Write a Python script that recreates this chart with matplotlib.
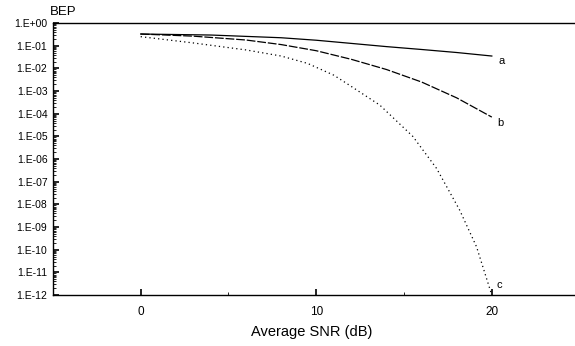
import matplotlib
matplotlib.use("Agg")
import matplotlib.pyplot as plt
from matplotlib.ticker import FixedLocator, NullFormatter

plt.rcParams['font.family'] = ['Liberation Sans', 'DejaVu Sans']

snr_a = [0, 4, 8, 10, 12, 14, 16, 18, 20]
bep_a = [3.27e-1, 2.95e-1, 2.24e-1, 1.74e-1, 1.26e-1, 9.1e-2, 6.8e-2, 5.0e-2, 3.5e-2]

snr_b = [0, 3, 6, 8, 10, 12, 14, 16, 18, 20]
bep_b = [3.27e-1, 2.63e-1, 1.78e-1, 1.12e-1, 6.0e-2, 2.5e-2, 8.9e-3, 2.5e-3,
         5.0e-4, 7.1e-5]

snr_c = [0, 3, 6, 8, 9.5, 11, 11.72, 13.62, 15.5, 16.85, 18.17, 19.13, 20]
bep_c = [2.5e-1, 1.32e-1, 6.5e-2, 3.5e-2, 1.66e-2, 5.0e-3, 2.2e-3, 2.4e-4,
         1.0e-5, 3.9e-7, 5.6e-9, 1.35e-10, 1.0e-12]

labels = ['a', 'b', 'c']
ytick_vals = [10.0 ** (-k) for k in range(0, 13)]
ytick_labels = ['1.E+00'] + ['1.E-%02d' % k for k in range(1, 13)]
xtick_vals = [0, 10, 20]

fig = plt.figure(figsize=(5.75, 3.46), dpi=100)
ax = fig.add_axes([0.092, 0.147, 0.916, 0.7865])

ax.plot(snr_a, bep_a, color='black', lw=0.9, ls='-')
ax.plot(snr_b, bep_b, color='black', lw=0.9, ls=(0, (7, 1.5)))
ax.plot(snr_c, bep_c, color='black', lw=0.9, ls=(0, (1, 2.5)))

ax.text(20.4, 2.1e-2, labels[0], fontsize=8, va='center', ha='left')
ax.text(20.3, 3.9e-5, labels[1], fontsize=8, va='center', ha='left')
ax.text(20.25, 2.8e-12, labels[2], fontsize=8, va='center', ha='left')

ax.set_yscale('log')
ax.set_ylim(1e-12, 1)
ax.set_xlim(-5, 25)
ax.set_yticks(ytick_vals)
ax.set_yticklabels(ytick_labels)
ax.yaxis.set_minor_locator(FixedLocator(
    [m * 10.0 ** e for e in range(-12, 0) for m in range(2, 10)]))
ax.yaxis.set_minor_formatter(NullFormatter())
ax.set_xticks(xtick_vals)
ax.set_xticks([-5, 5, 15, 25], minor=True)

ax.tick_params(axis='both', which='major', direction='in', length=4, width=1.2,
               labelsize=7.5, pad=4)
ax.tick_params(axis='both', which='minor', direction='in', length=2, width=0.6)
ax.tick_params(axis='x', which='major', pad=8, labelsize=8.5)
ax.tick_params(top=False, right=False, which='both')

ax.spines['right'].set_visible(False)
for s in ['left', 'bottom', 'top']:
    ax.spines[s].set_linewidth(1.0)

fig.text(0.087, 0.948, 'BEP', fontsize=9.5, ha='left', va='bottom')
ax.set_xlabel('Average SNR (dB)', fontsize=10.5)
ax.xaxis.set_label_coords(0.492, -0.11)
ax.xaxis.label.set_va('top')

fig.savefig('out.png', dpi=100)
